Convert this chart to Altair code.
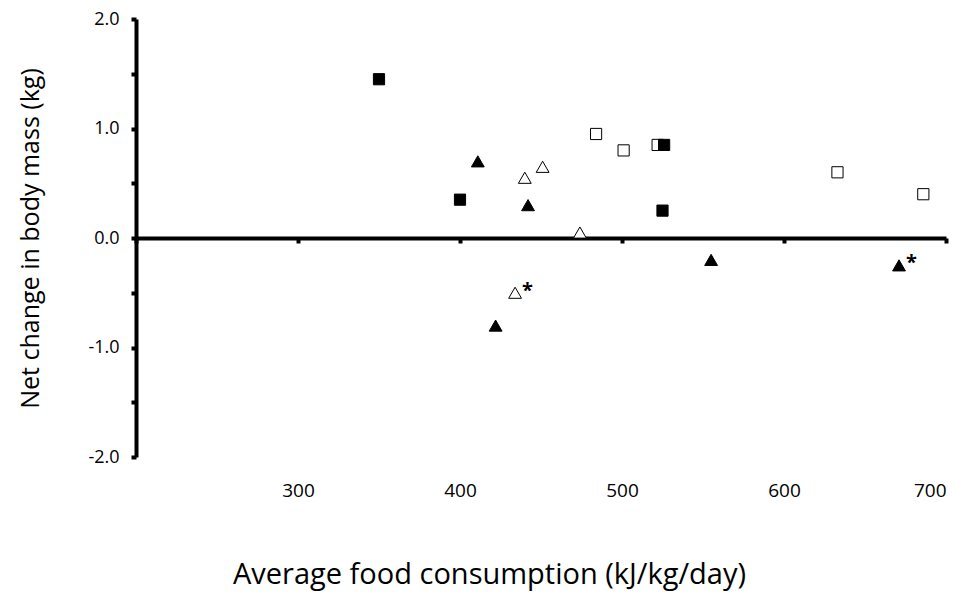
import altair as alt
import pandas as pd

# Filled squares
fsq_x = [350, 400, 526, 525]
fsq_y = [1.45, 0.35, 0.85, 0.25]
# Open squares
osq_x = [484, 501, 522, 633, 686]
osq_y = [0.95, 0.80, 0.85, 0.60, 0.40]
# Filled triangles
ftr_x = [411, 442, 422, 555, 671]
ftr_y = [0.70, 0.30, -0.80, -0.20, -0.25]
ftr_note = ["", "", "", "", "*"]
# Open triangles
otr_x = [440, 451, 474, 434]
otr_y = [0.55, 0.65, 0.05, -0.50]
otr_note = ["", "", "", "*"]

x_ticks = [200, 300, 400, 500, 600, 700]
y_ticks = [-2.0, -1.5, -1.0, -0.5, 0.0, 0.5, 1.0, 1.5, 2.0]

rows = []
for x, y in zip(osq_x, osq_y):
    rows.append(dict(x=x, y=y, shape="square", fill="open", note=""))
for x, y in zip(fsq_x, fsq_y):
    rows.append(dict(x=x, y=y, shape="square", fill="filled", note=""))
for x, y, n in zip(ftr_x, ftr_y, ftr_note):
    rows.append(dict(x=x, y=y, shape="triangle", fill="filled", note=n))
for x, y, n in zip(otr_x, otr_y, otr_note):
    rows.append(dict(x=x, y=y, shape="triangle", fill="open", note=n))
df = pd.DataFrame(rows)

FONT = "Open Sans"

xscale = alt.Scale(domain=[200, 700], nice=False, zero=False)
yscale = alt.Scale(domain=[-2, 2], nice=False, zero=False)

x_axis = alt.Axis(
    values=x_ticks,
    labelExpr="datum.value == 200 ? '' : datum.label",
    format="d",
    offset=-219,
    domainColor="black", domainWidth=4,
    tickColor="black", tickWidth=4, tickSize=5,
    labelPadding=238, labelFontSize=19, labelFont=FONT, labelColor="black",
    grid=False,
    title="Average food consumption (kJ/kg/day)",
    titleFontSize=29, titleFont=FONT, titleFontWeight="normal", titleColor="black",
    titleBaseline="alphabetic", titleY=345, titleX=353, titleAlign="center",
)
y_axis = alt.Axis(
    values=y_ticks,
    labelExpr="datum.value % 1 == 0 ? (datum.value < 0 ? '-' : '') + format(abs(datum.value), '.1f') : ''",
    domainColor="black", domainWidth=4,
    tickColor="black", tickWidth=4, tickSize=5,
    labelPadding=12, labelFontSize=18, labelFont=FONT, labelColor="black",
    grid=False,
    title="Net change in body mass (kg)",
    titleFontSize=25, titleFont=FONT, titleFontWeight="normal", titleColor="black",
    titlePadding=44,
)

base = alt.Chart(df)

points = base.mark_point(filled=True, stroke="black", strokeWidth=1, opacity=1).encode(
    x=alt.X("x:Q", scale=xscale, axis=x_axis),
    y=alt.Y("y:Q", scale=yscale, axis=y_axis),
    shape=alt.Shape("shape:N", scale=alt.Scale(domain=["square", "triangle"], range=["square", "triangle-up"]), legend=None),
    fill=alt.Fill("fill:N", scale=alt.Scale(domain=["filled", "open"], range=["black", "white"]), legend=None),
    size=alt.Size("shape:N", scale=alt.Scale(domain=["square", "triangle"], range=[125, 165]), legend=None),
)

notes = base.mark_text(align="left", dx=7, dy=-2, fontSize=20, fontWeight="bold", font=FONT, color="black").encode(
    x=alt.X("x:Q", scale=xscale, axis=x_axis),
    y=alt.Y("y:Q", scale=yscale, axis=y_axis),
    text="note:N",
)

chart = alt.layer(points, notes).properties(
    width=810, height=438,
    autosize=alt.AutoSizeParams(type="none"),
    padding={"left": 128, "top": 11, "right": 20, "bottom": 142},
).configure_view(stroke=None)

chart.save("out.html", embed_options={"renderer": "svg", "actions": False})
